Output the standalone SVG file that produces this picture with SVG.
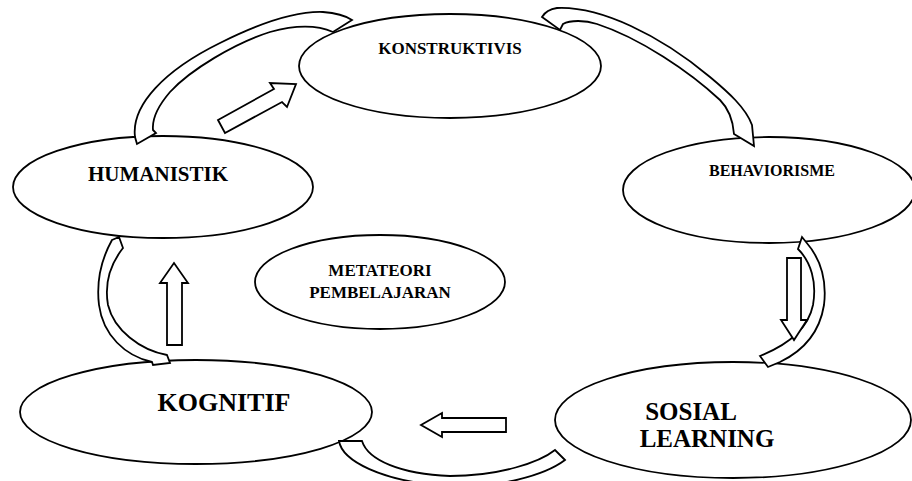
<svg xmlns="http://www.w3.org/2000/svg" width="912" height="481" viewBox="0 0 912 481">
<style>
.node ellipse{fill:#fff;stroke:#000;stroke-width:1.8}
.band,.blk{fill:#fff;stroke:#000;stroke-width:1.8;stroke-linejoin:miter}
text{font-family:"Liberation Serif","Times New Roman",serif;font-weight:bold;fill:#000;text-anchor:middle}
</style>
<rect width="912" height="481" fill="#fff"/>
<g id="node-konstruktivis" class="node"><ellipse cx="450" cy="66" rx="151" ry="52"/><text x="450" y="54" font-size="17">KONSTRUKTIVIS</text></g>
<g id="node-humanistik" class="node"><ellipse cx="163" cy="187" rx="150" ry="51"/><text x="158" y="181" font-size="21">HUMANISTIK</text></g>
<g id="node-behaviorisme" class="node"><ellipse cx="769" cy="190" rx="146" ry="53"/><text x="772" y="176" font-size="16">BEHAVIORISME</text></g>
<g id="node-metateori" class="node"><ellipse cx="380" cy="282" rx="125" ry="47"/><text x="380" y="276" font-size="17">METATEORI</text><text x="380" y="298" font-size="17">PEMBELAJARAN</text></g>
<g id="node-kognitif" class="node"><ellipse cx="196" cy="412" rx="176" ry="52"/><text x="224" y="411" font-size="26">KOGNITIF</text></g>
<g id="node-sosial" class="node"><ellipse cx="733" cy="420" rx="178" ry="58"/><text x="691" y="420" font-size="25">SOSIAL</text><text x="707" y="447" font-size="25">LEARNING</text></g>
<g id="connectors">
<path class="band" d="M137,144 L135,137 C131,105 165,70 220,43 C260,23 295,11 323,12 C337,13 346,16 352,20 L333,32 C315,24 295,25 270,32 C235,43 190,70 170,92 C158,106 152,120 153,130 L156,133 Z"/>
<path class="band" d="M542,17 C545,12 550,9 557,8 C600,6 660,35 710,77 C728,92 746,108 752,125 L754,146 L734,134 C733,120 728,108 720,100 C690,72 640,38 597,24 C585,20 570,20 563,24 L560,30 Z"/>
<path class="band" d="M806,242 C820,258 827,280 824,305 C820,330 805,350 780,362 L768,367 L760,356 C785,346 808,330 813,305 C817,282 811,262 798,249 L802,237 Z"/>
<path class="band" d="M339,441 L362,441 C368,460 400,474 450,476 C500,476 540,462 555,450 L565,460 C545,475 500,488 450,486 C380,482 342,460 339,441 Z"/>
<path class="band" d="M112,240 L119,237 L123,248 C112,262 104,282 108,305 C114,330 140,350 167,355 L170,363 L153,365 L152,362 C125,356 103,335 99,305 C96,280 102,258 112,240 Z"/>
<polygon class="blk" points="218,120 274,89 270,83 296,84 287,107 282,102 225,133"/>
<polygon class="blk" points="787,258 801,258 801,320 807,320 794,340 781,320 787,320"/>
<polygon class="blk" points="506,418 442,418 442,413 421,425 442,437 442,432 506,432"/>
<polygon class="blk" points="167,345 167,283 160,283 174,263 188,283 182,283 182,345"/>
</g>
</svg>
